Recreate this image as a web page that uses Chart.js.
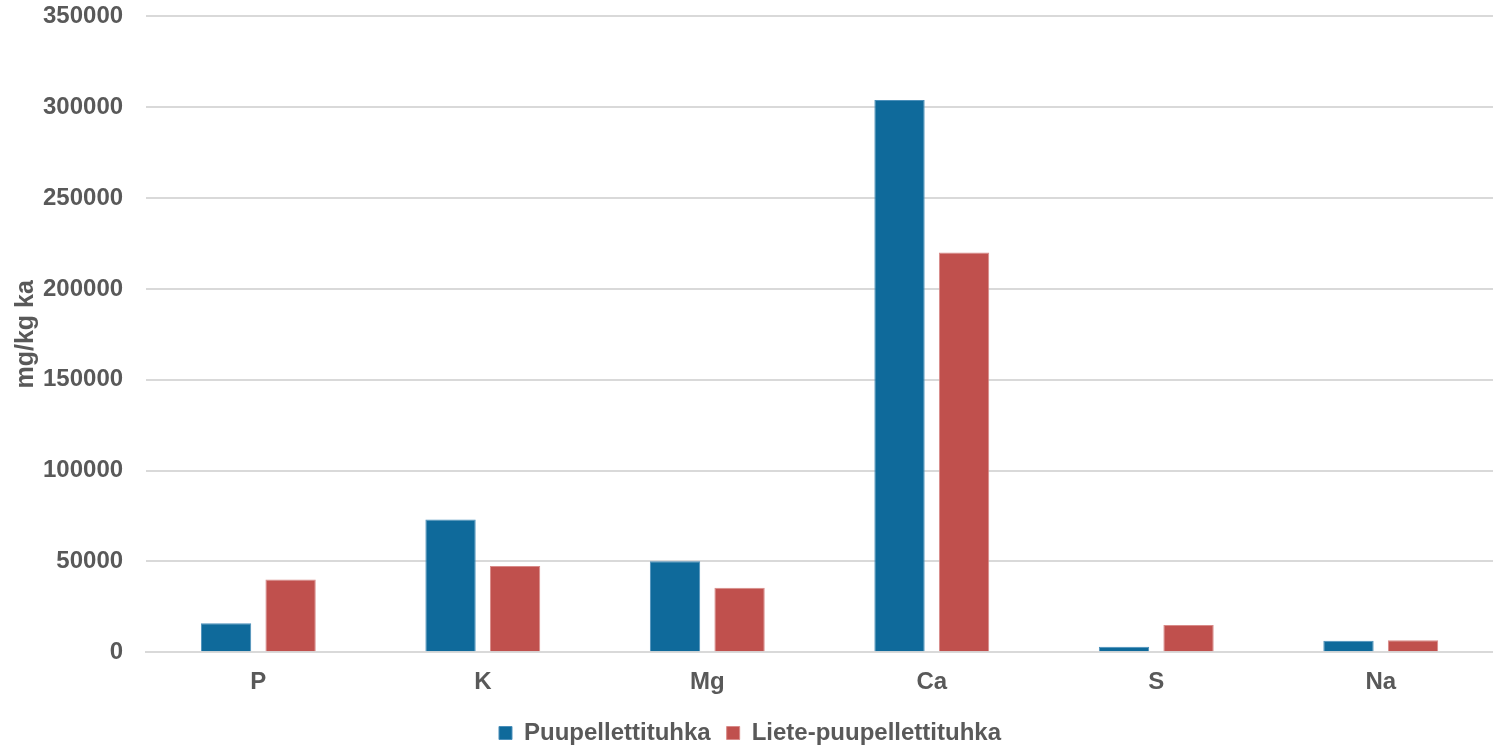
<!DOCTYPE html>
<html>
<head>
<meta charset="utf-8">
<script src="https://cdn.jsdelivr.net/npm/chart.js@4"></script>
<style>
html,body{margin:0;padding:0;background:#fff;}
#wrap{width:1493px;height:747px;position:relative;}
</style>
</head>
<body>
<div id="wrap"><canvas id="c" width="1493" height="747"></canvas></div>
<script>
const categories = ["P", "K", "Mg", "Ca", "S", "Na"];
const puupellettituhka = [16000, 73000, 50000, 304000, 3000, 6300];
const lietePuupellettituhka = [40000, 47500, 35500, 220000, 15000, 6600];
const seriesNames = ["Puupellettituhka", "Liete-puupellettituhka"];
const yTitle = "mg/kg ka";

const font = "'Liberation Sans', Arial, sans-serif";
new Chart(document.getElementById('c'), {
  type: 'bar',
  data: {
    labels: categories,
    datasets: [
      {label: seriesNames[0], data: puupellettituhka, backgroundColor: '#0F6A9B', borderColor: '#4A8FBA', borderWidth: 1, categoryPercentage: 0.575, barPercentage: 0.78},
      {label: seriesNames[1], data: lietePuupellettituhka, backgroundColor: '#C0504D', borderColor: '#D88A88', borderWidth: 1, categoryPercentage: 0.575, barPercentage: 0.78}
    ]
  },
  options: {
    responsive: false,
    animation: false,
    layout: {padding: {left: 7, right: 0, top: 0, bottom: -8}},
    plugins: {
      legend: {
        position: 'bottom',
        labels: {font: {family: font, size: 24, weight: 'bold'}, color: '#595959', boxWidth: 13, boxHeight: 13, padding: 16}
      },
      tooltip: {enabled: false}
    },
    scales: {
      x: {
        grid: {display: false},
        border: {display: true, color: '#d9d9d9', width: 2},
        ticks: {font: {family: font, size: 24, weight: 'bold'}, color: '#595959', padding: 8}
      },
      y: {
        min: 0, max: 350000,
        ticks: {stepSize: 50000, font: {family: font, size: 24, weight: 'bold'}, color: '#595959', padding: 2,
          callback: v => String(v)},
        grid: {color: '#d9d9d9', lineWidth: 2, drawTicks: true, tickLength: 21, tickColor: 'rgba(0,0,0,0)'},
        border: {display: false},
        title: {display: true, text: yTitle, font: {family: font, size: 25, weight: 'bold'}, color: '#595959', padding: {bottom: 0}}
      }
    }
  }
});
</script>
</body>
</html>
